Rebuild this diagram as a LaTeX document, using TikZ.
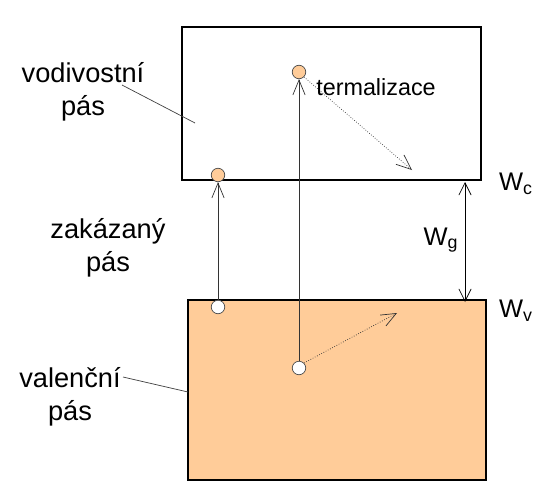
\documentclass[tikz,border=0pt]{standalone}
\usepackage{fontspec}
\setmainfont{Liberation Sans}
\usetikzlibrary{arrows.meta}
\definecolor{pasoranz}{RGB}{255,204,153}

\begin{document}
\begin{tikzpicture}[x=0.02cm,y=-0.02cm,
    popis/.style={font=\fontsize{15.5}{18.7}\selectfont, align=center, inner sep=0pt},
    energie/.style={font=\fontsize{14.5}{17}\selectfont, inner sep=0pt},
    elektron/.style={circle, draw=black!70, fill=pasoranz, minimum size=0.27cm, inner sep=0pt},
    dira/.style={circle, draw=black!70, fill=white, minimum size=0.27cm, inner sep=0pt},
    prechod/.style={draw=black!80, -{Straight Barb[length=8.5pt,width=7pt]}},
    rozptyl/.style={draw=black!80, densely dotted, -{Straight Barb[length=8.5pt,width=7pt]}}]

    \useasboundingbox (0,0) rectangle (541,494);

    % vodivostni a valencni pas
    \draw[line width=0.6pt, fill=white] (182,27) rectangle (481,180);
    \draw[line width=0.6pt, fill=pasoranz] (188,300) rectangle (486,480);

    % elektrony a diry
    \node[elektron] (e1) at (218,175) {};
    \node[dira] (h1) at (218,307) {};
    \node[elektron] (e2) at (299,72) {};
    \node[dira] (h2) at (299,368) {};

    % excitace elektronu pres zakazany pas
    \draw[prechod] (h1) -- (e1.south);
    \draw[prechod] (h2) -- (e2.south);

    % termalizace
    \coordinate (t1) at (412,170);
    \coordinate (t2) at (397,313);
    \draw[rozptyl] (e2.south east) -- (t1);
    \draw[rozptyl] (h2.north east) -- (t2);
    \node[font=\fontsize{13.3}{16}\selectfont, inner sep=0pt] (term) at (376,87) {termalizace};

    % popisky pasu
    \node[popis] (vod) at (83,92) {vodivostní\\pás};
    \node[popis] (zak) at (108,248) {zakázaný\\pás};
    \node[popis] (val) at (70,397) {valenční\\pás};

    \coordinate (vodzac) at (122,85);
    \coordinate (vodkon) at (195,123);
    \coordinate (valzac) at (123,377);
    \coordinate (valkon) at (188,392);
    \draw[black!75] (vodzac) -- (vodkon);
    \draw[black!75] (valzac) -- (valkon);

    % sirka zakazaneho pasu
    \coordinate (gh) at (465,182);
    \coordinate (gd) at (465,302);
    \draw[{Straight Barb[length=7pt,width=7pt]}-{Straight Barb[length=7pt,width=7pt]}] (gh) -- (gd);
    \node[energie] (wc) at (516,184) {W\textsubscript{c}};
    \node[energie] (wg) at (441,240) {W\textsubscript{g}};
    \node[energie] (wv) at (516,311) {W\textsubscript{v}};
\end{tikzpicture}
\end{document}
